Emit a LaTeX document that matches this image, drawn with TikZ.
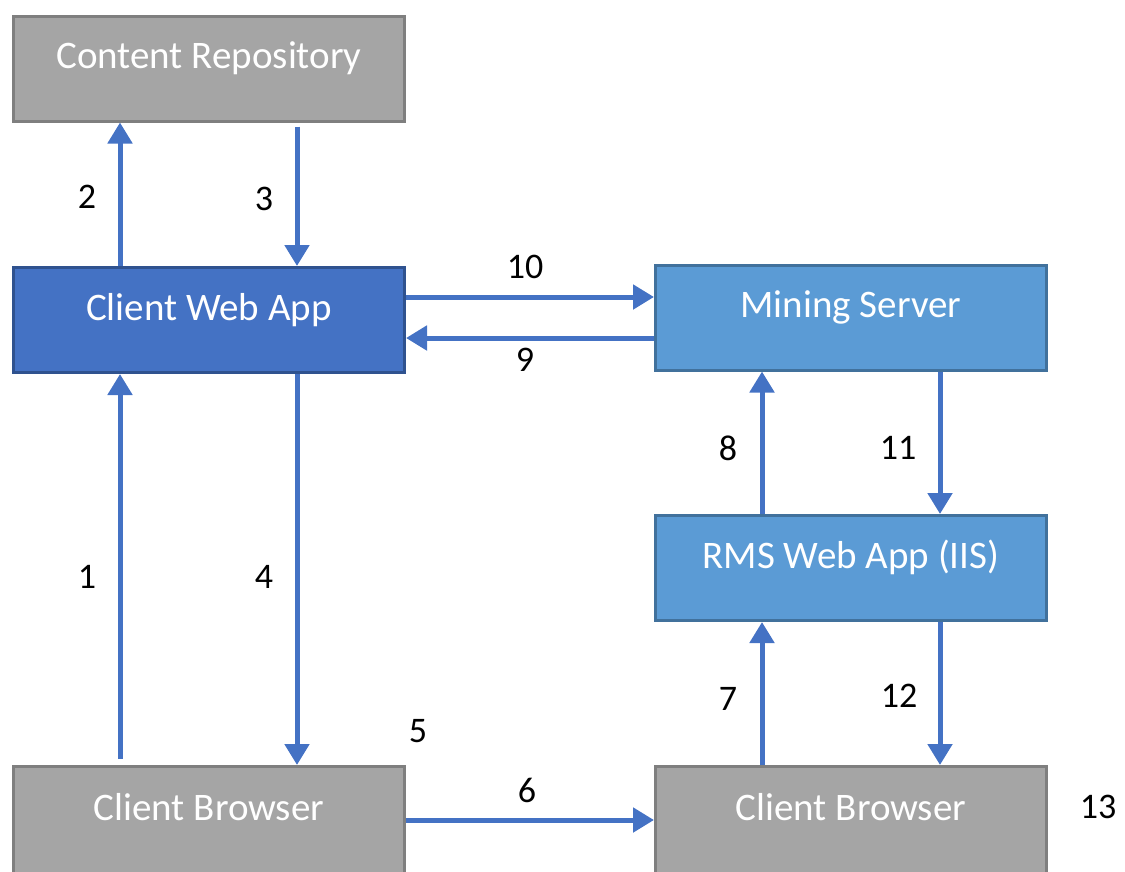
\documentclass[tikz,border=0pt]{standalone}
\usepackage{fontspec}
\setmainfont{Carlito}
\usetikzlibrary{arrows.meta}
\definecolor{boxgray}{HTML}{A5A5A5}
\definecolor{boxgrayline}{HTML}{7F7F7F}
\definecolor{darkblue}{HTML}{4472C4}
\definecolor{darkblueline}{HTML}{2F528F}
\definecolor{lightblue}{HTML}{5B9BD5}
\definecolor{lightblueline}{HTML}{41719C}
\definecolor{arrowblue}{HTML}{4472C4}
\begin{document}
\begin{tikzpicture}[x=1pt,y=-1pt,
  box/.style={draw, line width=3pt, minimum width=391pt, minimum height=105pt, inner sep=0pt},
  graybox/.style={box, fill=boxgray, draw=boxgrayline},
  darkbox/.style={box, fill=darkblue, draw=darkblueline},
  lightbox/.style={box, fill=lightblue, draw=lightblueline},
  boxtext/.style={anchor=base, text=white, font=\fontsize{39}{44}\selectfont, inner sep=0pt},
  num/.style={font=\fontsize{36}{40}\selectfont, inner sep=0pt, text=black},
  arr/.style={draw=arrowblue, line width=5pt, -{Triangle[width=24pt,length=21pt]}},
]
\useasboundingbox (0,0) rectangle (1125,871);
% boxes
\node[graybox]  (cr)  at (209,68.5)  {};
\node[darkbox]  (cwa) at (209,320)   {};
\node[lightbox] (ms)  at (851,317.5) {};
\node[lightbox] (rms) at (851,568)   {};
\node[graybox, minimum height=115pt]  (cbl) at (209,824)   {};
\node[graybox, minimum height=115pt]  (cbr) at (851,824)   {};
% box texts
\node[boxtext] (crt)  at (cr.center)  {Content Repository};
\node[boxtext] (cwat) at (cwa.center) {Client Web App};
\node[boxtext] (mst)  at (ms.center)  {Mining Server};
\node[boxtext] (rmst) at (rms.center) {RMS Web App (IIS)};
\node[boxtext, yshift=4pt] (cblt) at (cbl.center) {Client Browser};
\node[boxtext, yshift=4pt] (cbrt) at (cbr.center) {Client Browser};
% guide coordinates
\coordinate (xa) at (120,0);
\coordinate (xb) at (297,0);
\coordinate (xc) at (762,0);
\coordinate (xd) at (940,0);
\coordinate (ya) at (0,297);
\coordinate (yb) at (0,338);
\coordinate (yc) at (0,820);
% connectors
\draw[arr, shorten <=6pt] (cbl.north -| xa) -- (cwa.south -| xa);
\draw[arr] (cwa.north -| xa) -- (cr.south -| xa);
\draw[arr, shorten <=4pt] (cr.south -| xb) -- (cwa.north -| xb);
\draw[arr] (cwa.south -| xb) -- (cbl.north -| xb);
\draw[arr] (cwa.east |- ya) -- (ms.west |- ya);
\draw[arr] (ms.west |- yb) -- (cwa.east |- yb);
\draw[arr] (rms.north -| xc) -- (ms.south -| xc);
\draw[arr] (ms.south -| xd) -- (rms.north -| xd);
\draw[arr] (cbr.north -| xc) -- (rms.south -| xc);
\draw[arr] (rms.south -| xd) -- (cbr.north -| xd);
\draw[arr] (cbl.east |- yc) -- (cbr.west |- yc);
% numbers
\node[num] (n1)  at (87,577)   {1};
\node[num] (n2)  at (87,197)   {2};
\node[num] (n3)  at (264,199)  {3};
\node[num] (n4)  at (264,577)  {4};
\node[num] (n5)  at (418,731)  {5};
\node[num] (n6)  at (527,790)  {6};
\node[num] (n7)  at (728,699)  {7};
\node[num] (n8)  at (728,448)  {8};
\node[num] (n9)  at (525,360)  {9};
\node[num] (n10) at (525,267)  {10};
\node[num] (n11) at (898,448)  {11};
\node[num] (n12) at (899,696)  {12};
\node[num] (n13) at (1098,807) {13};
\end{tikzpicture}
\end{document}
